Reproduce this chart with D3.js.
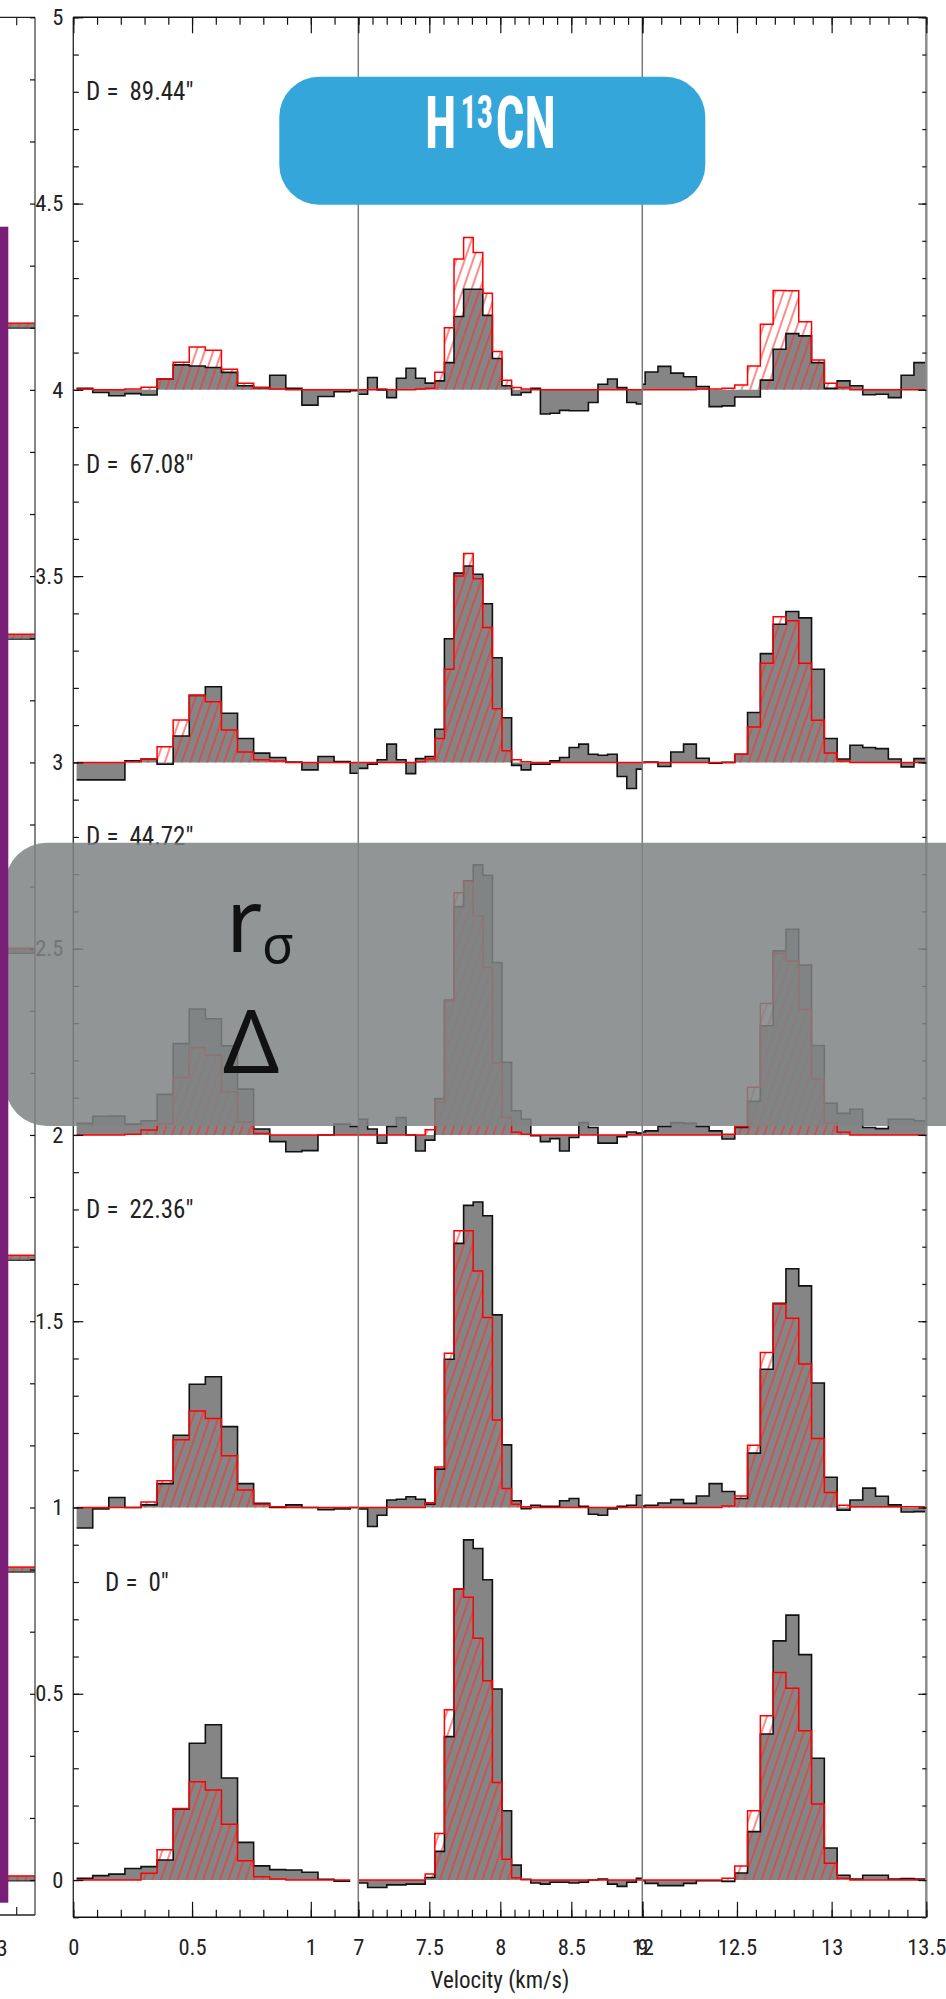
<!DOCTYPE html>
<html><head><meta charset="utf-8">
<script src="https://cdn.jsdelivr.net/npm/d3@7"></script>
<style>
body{margin:0;background:#fff;}
svg{display:block;}
</style></head><body>
<svg id="chart" width="946" height="1999"></svg>
<script>
// ---------------- DATA ----------------
const panelDomains = [[0, 1.2], [7, 9], [12, 13.5]];
const channelStart = [0.014, 6.998, 11.9475];
const channelWidth = [0.06775, 0.0676, 0.0676];
const rowOffsets = [4, 3, 2, 1, 0];
const rowLabels = ['89.44"', '67.08"', '44.72"', '22.36"', '0"'];
const xTickValues = [[0, 0.5, 1], [7, 7.5, 8, 8.5, 9], [12, 12.5, 13, 13.5]];
const xTickLabels = [["0", "0.5", "1"], ["7", "7.5", "8", "8.5", "9"], ["12", "12.5", "13", "13.5"]];
const yTickValues = [0, 0.5, 1, 1.5, 2, 2.5, 3, 3.5, 4, 4.5, 5];
const yTickLabels = ["0", "0.5", "1", "1.5", "2", "2.5", "3", "3.5", "4", "4.5", "5"];
const neighborLevels = [4.179, 3.344, 2.501, 1.677, 0.84, 0.011];

// D = 89.44"
const obs_D89_p1 = [0.004, -0.007, -0.016, -0.01, -0.014, 0.029, 0.067, 0.064, 0.06, 0.047, 0.011, 0.006, 0.039, 0.004, -0.041, -0.018, -0.005, -0.002];
const mod_D89_p1 = [0.002, 0, 0, 0.002, 0.007, 0.029, 0.074, 0.115, 0.106, 0.055, 0.018, 0.006, 0.002, 0, 0, 0, 0, 0];
const obs_D89_p2 = [-0.012, 0.033, 0, -0.021, 0.031, 0.058, 0.031, 0.018, 0.024, 0.073, 0.197, 0.27, 0.27, 0.2, 0.084, 0.011, -0.014, -0.007, 0.004, -0.065, -0.063, -0.055, -0.056, -0.056, -0.034, 0.015, 0.029, 0.006, -0.034, -0.038];
const mod_D89_p2 = [0, 0, 0.002, 0, 0, 0, 0.002, 0.004, 0.047, 0.167, 0.351, 0.409, 0.369, 0.259, 0.103, 0.026, 0.006, 0.002, 0, 0, 0, 0, 0, 0, 0, 0, 0, 0, 0, 0];
const obs_D89_p3 = [0.015, 0.048, 0.063, 0.045, 0.035, 0.009, -0.045, -0.043, -0.019, -0.019, 0.026, 0.109, 0.151, 0.145, 0.073, 0.004, 0.024, 0.011, -0.013, -0.012, -0.021, 0.039, 0.073];
const mod_D89_p3 = [0, 0, 0, 0, 0, 0.002, 0.002, 0.004, 0.013, 0.064, 0.176, 0.267, 0.266, 0.183, 0.08, 0.018, 0.006, 0, 0, 0, 0, 0, 0];

// D = 67.08"
const obs_D67_p1 = [-0.047, -0.047, -0.047, 0.004, 0.009, -0.005, 0.071, 0.18, 0.203, 0.132, 0.064, 0.025, 0.013, 0.001, -0.02, 0.016, 0.002, -0.029];
const mod_D67_p1 = [0, 0, 0, 0.002, 0.009, 0.042, 0.114, 0.18, 0.163, 0.087, 0.028, 0.007, 0.004, 0, 0, 0, 0, 0];
const obs_D67_p2 = [-0.016, -0.005, 0.007, 0.049, 0.007, -0.03, 0.01, 0.016, 0.089, 0.332, 0.508, 0.527, 0.505, 0.426, 0.281, 0.12, -0.008, -0.02, -0.005, -0.005, 0.004, 0.013, 0.04, 0.049, 0.022, 0.019, 0.022, -0.038, -0.07, -0.018];
const mod_D67_p2 = [0, 0, 0, 0, 0, 0, 0.002, 0.009, 0.064, 0.25, 0.5, 0.561, 0.493, 0.362, 0.144, 0.031, 0.007, 0.002, 0, 0, 0, 0, 0, 0, 0, 0, 0, 0, 0, 0];
const obs_D67_p3 = [0, 0.001, -0.011, 0.028, 0.049, 0.011, -0.002, 0, 0.022, 0.134, 0.292, 0.371, 0.405, 0.388, 0.25, 0.064, 0.009, 0.046, 0.04, 0.037, 0.009, -0.012, 0.01];
const mod_D67_p3 = [0, 0, 0, 0, 0, 0, 0, 0, 0.022, 0.095, 0.266, 0.391, 0.38, 0.266, 0.113, 0.025, 0.004, 0, 0, 0, 0, 0, 0];

// D = 44.72"
const obs_D44_p1 = [0.031, 0.05, 0.051, 0.029, 0.038, 0.109, 0.245, 0.338, 0.312, 0.239, 0.123, 0.016, -0.018, -0.045, -0.042, 0, 0.029, 0.023];
const mod_D44_p1 = [0, 0, 0, 0.002, 0.013, 0.03, 0.154, 0.235, 0.214, 0.116, 0.035, 0.004, 0, 0, 0, 0, 0, 0];
const obs_D44_p2 = [0.042, 0.016, -0.022, 0.023, 0.047, 0, -0.043, -0.014, 0.098, 0.362, 0.613, 0.682, 0.725, 0.697, 0.463, 0.195, 0.065, 0.042, -0.002, -0.018, -0.01, -0.043, -0.007, 0.033, 0.02, -0.022, -0.022, -0.005, 0.008, 0.005];
const mod_D44_p2 = [0, 0, 0, 0, 0, 0, 0, 0.014, 0.087, 0.36, 0.65, 0.68, 0.588, 0.45, 0.193, 0.047, 0.007, 0.002, 0, 0, 0, 0, 0, 0, 0, 0, 0, 0, 0, 0];
const obs_D44_p3 = [0.008, 0.011, 0.023, 0.033, 0.031, 0.023, 0.011, -0.011, 0.02, 0.09, 0.293, 0.494, 0.552, 0.456, 0.24, 0.085, 0.058, 0.069, 0.02, 0.017, 0.042, 0.042, 0.038];
const mod_D44_p3 = [0, 0, 0, 0, 0, 0, 0, 0.002, 0.023, 0.128, 0.353, 0.487, 0.466, 0.337, 0.15, 0.033, 0.007, 0, 0, 0, 0, 0, 0];

// D = 22.36"
const obs_D22_p1 = [-0.055, -0.004, 0.027, 0, 0.007, 0.064, 0.194, 0.331, 0.351, 0.217, 0.064, 0.011, 0, 0.007, 0, -0.006, -0.004, 0];
const mod_D22_p1 = [0, 0, 0, 0, 0.015, 0.072, 0.182, 0.259, 0.239, 0.139, 0.047, 0.009, 0.002, 0, 0, 0, 0, 0];
const obs_D22_p2 = [-0.004, -0.051, -0.021, 0.02, 0.022, 0.029, 0.022, 0.009, 0.103, 0.398, 0.709, 0.811, 0.82, 0.783, 0.517, 0.168, 0.018, -0.003, 0.006, 0.003, 0.003, 0.018, 0.024, 0.003, -0.018, -0.021, -0.004, 0.003, 0.006, 0.033];
const mod_D22_p2 = [0, 0, 0, 0, 0, 0, 0, 0.013, 0.109, 0.414, 0.743, 0.743, 0.635, 0.51, 0.235, 0.051, 0.009, 0.002, 0, 0, 0, 0, 0, 0, 0, 0, 0, 0, 0, 0];
const obs_D22_p3 = [0.004, 0.006, 0.012, 0.021, 0.011, 0.031, 0.064, 0.043, 0.024, 0.146, 0.371, 0.548, 0.641, 0.595, 0.334, 0.081, -0.007, 0.02, 0.052, 0.03, 0.007, -0.012, -0.011];
const mod_D22_p3 = [0, 0, 0, 0, 0, 0, 0, 0.004, 0.031, 0.167, 0.416, 0.546, 0.508, 0.385, 0.185, 0.04, 0.006, 0.002, 0.002, 0.002, 0.002, 0.002, 0.002];

// D = 0"
const obs_D0_p1 = [0.005, 0.012, 0.016, 0.031, 0.036, 0.054, 0.191, 0.367, 0.417, 0.274, 0.101, 0.038, 0.028, 0.027, 0.021, 0.002, -0.003, null];
const mod_D0_p1 = [0, 0, 0, 0, 0.018, 0.081, 0.192, 0.264, 0.242, 0.15, 0.052, 0.009, 0.003, 0, 0, 0, 0, null];
const obs_D0_p2 = [-0.008, -0.02, -0.02, -0.013, -0.013, -0.011, -0.011, 0.007, 0.077, 0.385, 0.781, 0.913, 0.89, 0.806, 0.513, 0.186, 0.04, 0.002, -0.008, -0.011, -0.006, -0.006, -0.008, -0.006, 0, 0.003, -0.011, -0.017, -0.006, 0.005];
const mod_D0_p2 = [0, 0, 0, 0, 0, 0, 0, 0.016, 0.125, 0.457, 0.781, 0.759, 0.649, 0.535, 0.262, 0.056, 0.006, 0.001, 0, 0, 0, 0, 0, 0, 0, 0, 0, 0, 0, 0];
const obs_D0_p3 = [-0.002, -0.009, -0.015, -0.015, -0.009, -0.002, -0.002, -0.004, 0.019, 0.13, 0.392, 0.642, 0.711, 0.605, 0.327, 0.086, 0.013, 0.003, 0.013, 0.013, 0.003, 0.004, 0.003];
const mod_D0_p3 = [0, 0, 0, 0, 0, 0, 0, 0.005, 0.038, 0.186, 0.441, 0.557, 0.515, 0.401, 0.204, 0.045, 0.005, 0, 0, 0, 0, 0, 0];

// ---------------- TABLE ----------------
const spectra = [
  {obs: [obs_D89_p1, obs_D89_p2, obs_D89_p3], mod: [mod_D89_p1, mod_D89_p2, mod_D89_p3]},
  {obs: [obs_D67_p1, obs_D67_p2, obs_D67_p3], mod: [mod_D67_p1, mod_D67_p2, mod_D67_p3]},
  {obs: [obs_D44_p1, obs_D44_p2, obs_D44_p3], mod: [mod_D44_p1, mod_D44_p2, mod_D44_p3]},
  {obs: [obs_D22_p1, obs_D22_p2, obs_D22_p3], mod: [mod_D22_p1, mod_D22_p2, mod_D22_p3]},
  {obs: [obs_D0_p1, obs_D0_p2, obs_D0_p3], mod: [mod_D0_p1, mod_D0_p2, mod_D0_p3]}
].map((s, i) => ({...s, offset: rowOffsets[i], label: rowLabels[i]}));

// ---------------- LAYOUT ----------------
const svg = d3.select("#chart");
const frame = {left: 73.3, right: 926.3, top: 17.3, bottom: 1917.3};
const panelEdges = [73.3, 358.3, 642.3, 926.3];
const y = d3.scaleLinear().domain([-0.1, 5]).range([frame.bottom, frame.top]);
const xs = panelDomains.map((d, i) => d3.scaleLinear().domain(d).range([panelEdges[i], panelEdges[i + 1]]));
const FONT = '"Liberation Sans Narrow","Roboto Condensed","DejaVu Sans Condensed",sans-serif';

const defs = svg.append("defs");
const pat = defs.append("pattern").attr("id", "hatch").attr("patternUnits", "userSpaceOnUse")
  .attr("width", 8).attr("height", 8).attr("patternTransform", "rotate(19)");
pat.append("line").attr("x1", 4).attr("y1", -1).attr("x2", 4).attr("y2", 9)
  .attr("stroke", "#ff2b2b").attr("stroke-width", 1.1);
panelDomains.forEach((d, i) => {
  defs.append("clipPath").attr("id", "clip" + i).append("rect")
    .attr("x", panelEdges[i]).attr("y", frame.top)
    .attr("width", panelEdges[i + 1] - panelEdges[i]).attr("height", frame.bottom - frame.top);
});

svg.append("rect").attr("width", 946).attr("height", 1999).attr("fill", "#fff");

function steps(values, p) {
  const pts = [];
  values.forEach((val, k) => {
    const lo = channelStart[p] + k * channelWidth[p];
    pts.push({v: lo, val}, {v: lo + channelWidth[p], val});
  });
  return pts;
}

// spectra
panelDomains.forEach((dom, p) => {
  const g = svg.append("g").attr("clip-path", `url(#clip${p})`);
  spectra.forEach(s => {
    const off = s.offset;
    const area = d3.area().defined(d => d.val != null)
      .x(d => xs[p](d.v)).y0(y(off)).y1(d => y(off + d.val));
    const line = d3.line().defined(d => d.val != null)
      .x(d => xs[p](d.v)).y(d => y(off + d.val));
    const o = steps(s.obs[p], p), m = steps(s.mod[p], p);
    g.append("path").attr("d", area(o)).attr("fill", "#858585");
    g.append("path").attr("d", area(m)).attr("fill", "url(#hatch)");
    g.append("path").attr("d", line(o)).attr("fill", "none").attr("stroke", "#111").attr("stroke-width", 1.6);
    g.append("path").attr("d", line(m)).attr("fill", "none").attr("stroke", "#ff0000").attr("stroke-width", 1.5);
  });
});

// separators & frame
[panelEdges[1], panelEdges[2]].forEach(xv => {
  svg.append("line").attr("x1", xv).attr("x2", xv).attr("y1", frame.top).attr("y2", frame.bottom)
    .attr("stroke", "#7a7a7a").attr("stroke-width", 1.5);
});
svg.append("line").attr("x1", frame.left).attr("x2", frame.right).attr("y1", frame.top).attr("y2", frame.top).attr("stroke", "#111").attr("stroke-width", 1.4);
svg.append("line").attr("x1", frame.left).attr("x2", frame.right).attr("y1", frame.bottom).attr("y2", frame.bottom).attr("stroke", "#111").attr("stroke-width", 1.4);
svg.append("line").attr("x1", frame.left).attr("x2", frame.left).attr("y1", frame.top).attr("y2", frame.bottom).attr("stroke", "#333").attr("stroke-width", 1.4);
svg.append("line").attr("x1", frame.right).attr("x2", frame.right).attr("y1", frame.top).attr("y2", frame.bottom).attr("stroke", "#8c8c8c").attr("stroke-width", 2.5);

function styleAxis(sel) {
  sel.select(".domain").remove();
  sel.selectAll(".tick line").attr("stroke", "#111").attr("stroke-width", 1.2);
  sel.selectAll("text").attr("font-family", FONT).attr("font-size", 22.5).attr("fill", "#222");
}

// x axes
panelDomains.forEach((dom, p) => {
  const minors = d3.range(Math.round(dom[0] * 10), Math.round(dom[1] * 10) + 1).map(k => k / 10);
  svg.append("g").attr("transform", `translate(0,${frame.bottom})`)
    .call(d3.axisBottom(xs[p]).tickValues(minors).tickSize(-7.5).tickFormat("")).call(styleAxis);
  svg.append("g").attr("transform", `translate(0,${frame.bottom})`)
    .call(d3.axisBottom(xs[p]).tickValues(xTickValues[p]).tickSize(-15.5).tickPadding(22)
      .tickFormat((d, j) => xTickLabels[p][j])).call(styleAxis);
  svg.append("g").attr("transform", `translate(0,${frame.top})`)
    .call(d3.axisTop(xs[p]).tickValues(minors).tickSize(-7.5).tickFormat("")).call(styleAxis);
  svg.append("g").attr("transform", `translate(0,${frame.top})`)
    .call(d3.axisTop(xs[p]).tickValues(xTickValues[p]).tickSize(-16).tickFormat("")).call(styleAxis);
});

// y axes
const yMinors = d3.range(-1, 51).map(k => k / 10);
svg.append("g").attr("transform", `translate(${frame.left},0)`)
  .call(d3.axisLeft(y).tickValues(yMinors).tickSize(-5.5).tickFormat("")).call(styleAxis);
svg.append("g").attr("transform", `translate(${frame.left},0)`)
  .call(d3.axisLeft(y).tickValues(yTickValues).tickSize(-10).tickPadding(10)
    .tickFormat((d, j) => yTickLabels[j])).call(styleAxis);
svg.append("g").attr("transform", `translate(${frame.right},0)`)
  .call(d3.axisRight(y).tickValues(yMinors).tickSize(-4).tickFormat("")).call(styleAxis);
svg.append("g").attr("transform", `translate(${frame.right},0)`)
  .call(d3.axisRight(y).tickValues(yTickValues).tickSize(-8).tickFormat("")).call(styleAxis);

// axis title
svg.append("text").attr("x", 500).attr("y", 1988).attr("text-anchor", "middle")
  .attr("font-family", FONT).attr("font-size", 23).attr("fill", "#222").text("Velocity (km/s)");

// D labels
spectra.forEach((s, i) => {
  const yy = y(s.offset + 0.777);
  const dx = s.offset === 0 ? 19 : 0;
  const g = svg.append("g").attr("font-family", FONT).attr("font-size", 25).attr("fill", "#222");
  g.append("text").attr("x", 86 + dx).attr("y", yy).text("D");
  g.append("text").attr("x", 106.5 + dx).attr("y", yy).text("=");
  g.append("text").attr("x", 129.5 + dx).attr("y", yy).text(s.label);
});

// Blue molecule label (single text with superscript)
svg.append("rect").attr("x", 279.3).attr("y", 76.7).attr("width", 426).attr("height", 128)
  .attr("rx", 40).attr("ry", 40).attr("fill", "#35a6da");
const sx = 0.7;
const lt = svg.append("text").attr("transform", `translate(425,148) scale(${sx},1)`)
  .attr("font-family", FONT).attr("font-weight", "bold").attr("fill", "#fff").attr("font-size", 73);
lt.append("tspan").attr("x", 0).attr("y", 0).text("H");
lt.append("tspan").attr("x", (460.5 - 425) / sx).attr("y", -20).attr("font-size", 46).text("13");
lt.append("tspan").attr("x", (495.5 - 425) / sx).attr("y", 0).text("CN");

// neighbouring panel (cropped, left edge)
const nb = svg.append("g");
neighborLevels.forEach(l => {
  const yy = y(l);
  nb.append("rect").attr("x", 8).attr("y", yy).attr("width", 27).attr("height", 5).attr("fill", "#858585");
  nb.append("rect").attr("x", 8).attr("y", yy).attr("width", 27).attr("height", 5).attr("fill", "url(#hatch)");
  nb.append("line").attr("x1", 8).attr("x2", 35).attr("y1", yy + 5).attr("y2", yy + 5).attr("stroke", "#111").attr("stroke-width", 1);
  nb.append("line").attr("x1", 8).attr("x2", 35).attr("y1", yy).attr("y2", yy).attr("stroke", "#ff0000").attr("stroke-width", 1.5);
});
nb.append("line").attr("x1", 35).attr("x2", 35).attr("y1", frame.top).attr("y2", 1915).attr("stroke", "#444").attr("stroke-width", 1.3);
nb.append("line").attr("x1", 0).attr("x2", 35).attr("y1", frame.top).attr("y2", frame.top).attr("stroke", "#222").attr("stroke-width", 1.3);
nb.append("line").attr("x1", 0).attr("x2", 35).attr("y1", 1915).attr("y2", 1915).attr("stroke", "#222").attr("stroke-width", 1.3);
nb.append("line").attr("x1", 16.7).attr("x2", 16.7).attr("y1", frame.top).attr("y2", frame.top + 8).attr("stroke", "#222").attr("stroke-width", 1.2);
nb.append("line").attr("x1", 16.7).attr("x2", 16.7).attr("y1", 1915).attr("y2", 1907).attr("stroke", "#222").attr("stroke-width", 1.2);
svg.append("g").attr("transform", "translate(35,0)")
  .call(d3.axisLeft(y).tickValues(d3.range(0, 31).map(k => 5 - k / 6)).tickSize(5).tickFormat("")).call(styleAxis);
svg.append("text").attr("x", 2).attr("y", 1956).attr("text-anchor", "middle")
  .attr("font-family", FONT).attr("font-size", 22.5).attr("fill", "#222").text("3");

// Grey overlay box
svg.append("rect").attr("x", 5).attr("y", 842.7).attr("width", 1000).attr("height", 283.3)
  .attr("rx", 42).attr("ry", 42).attr("fill", "#7f8384").attr("fill-opacity", 0.86);

// purple bar
svg.append("rect").attr("x", 0).attr("y", 226.7).attr("width", 8.3).attr("height", 1676).attr("fill", "#7a1f78");

// symbols
const sg = svg.append("g").attr("font-family", '"Noto Sans","Open Sans",sans-serif').attr("fill", "#111");
sg.append("text").attr("x", 226).attr("y", 952).attr("font-size", 88).text("r");
sg.append("text").attr("x", 262).attr("y", 963).attr("font-size", 52).text("σ");
sg.append("text").attr("x", 223).attr("y", 1073).attr("font-size", 88).text("Δ");
</script>
</body></html>
